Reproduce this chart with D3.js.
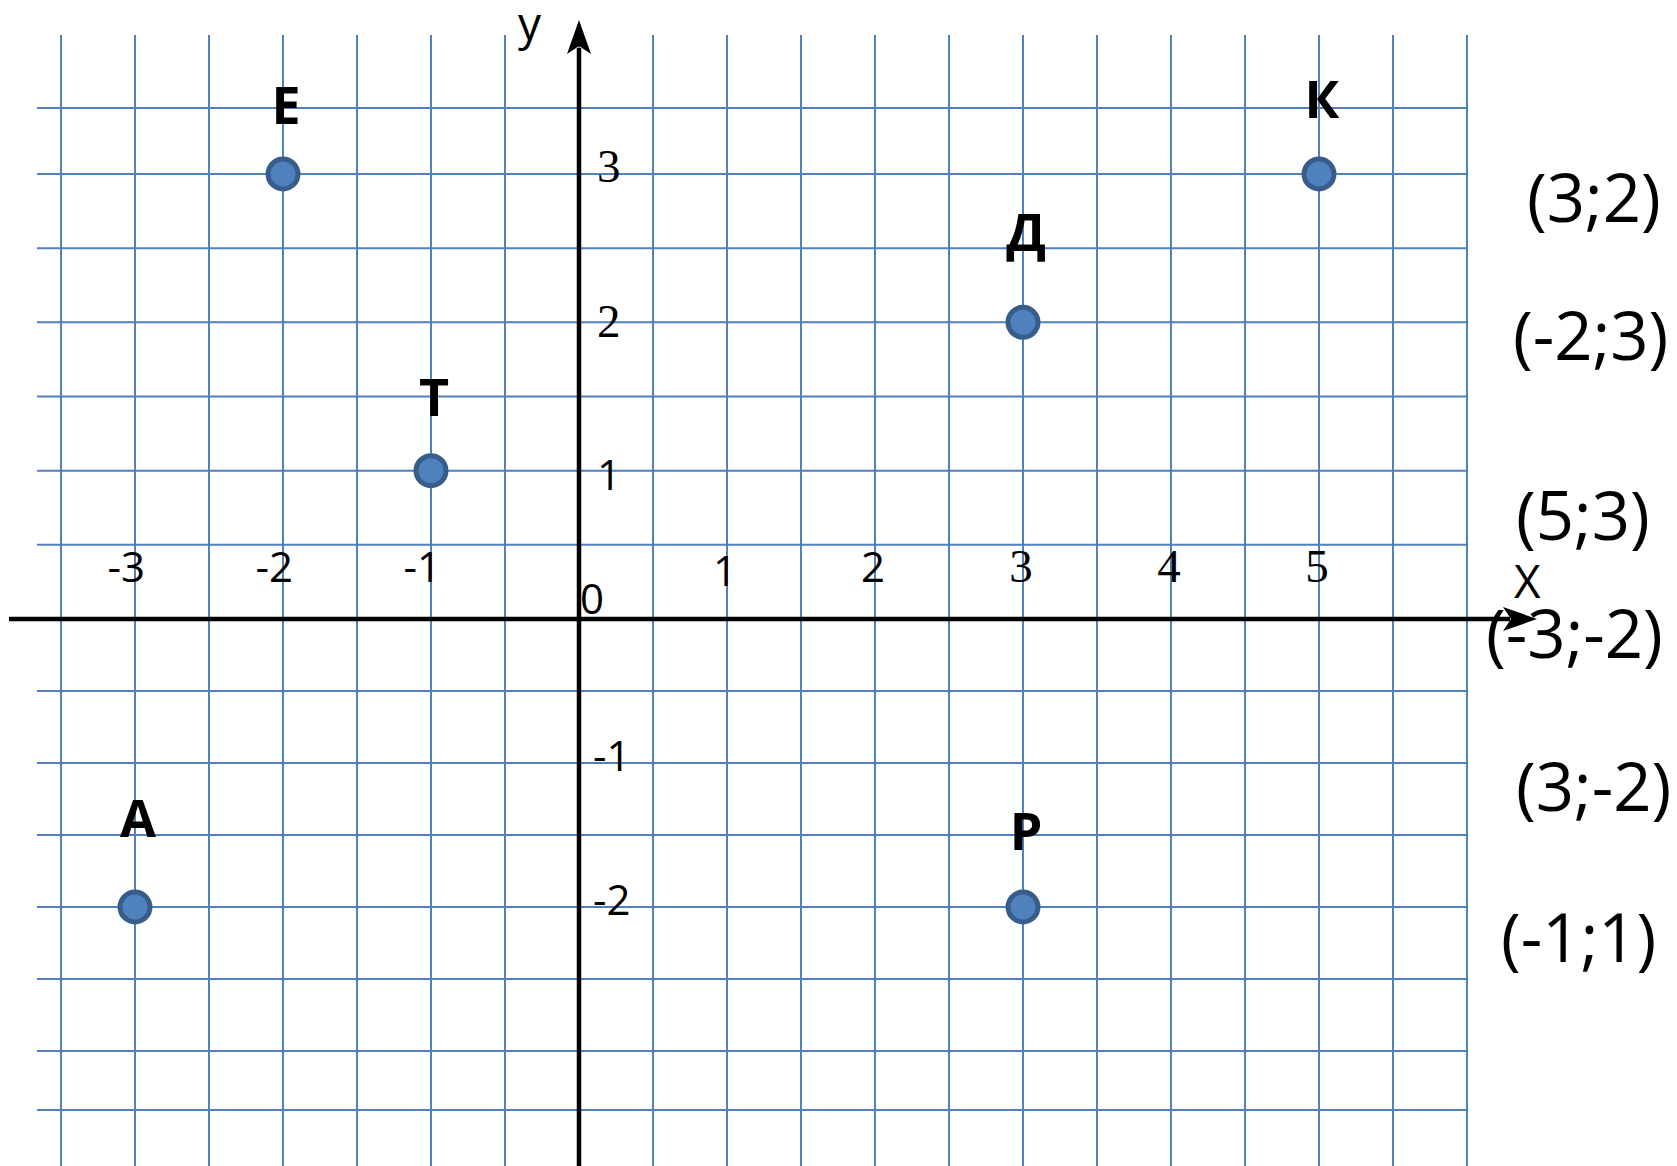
<!DOCTYPE html>
<html>
<head>
<meta charset="utf-8">
<script src="https://cdn.jsdelivr.net/npm/d3@7"></script>
<style>
  body { margin: 0; background: #fff; }
  svg { display: block; }
</style>
</head>
<body>
<div id="chart"></div>
<script>
// points on the grid
var pointNames = ["Е", "Т", "Д", "К", "А", "Р"];
var pointX = [-2, -1, 3, 5, -3, 3];
var pointY = [3, 1, 2, 3, -2, -2];

// axis numbers
var xTicks = [-3, -2, -1, 1, 2, 3, 4, 5];
var yTicks = [3, 2, 1, -1, -2];

// answers written on the right
var coordLabels = ["(3;2)", "(-2;3)", "(5;3)", "(-3;-2)", "(3;-2)", "(-1;1)"];

// layout only
var labelDy = [-50, -55, -71, -56, -70, -57];
var coordPos = [[1527, 222], [1513, 360], [1516, 540], [1486, 658], [1516, 811], [1501, 962]];
var serifX = [3, 4, 5], serifY = [3, 2];

var width = 1677, height = 1166;
var gridColor = "#4f81bd";
var sans = "'Open Sans', 'Noto Sans', sans-serif";
var serif = "'Liberation Serif', 'DejaVu Serif', serif";

var x = d3.scaleLinear().domain([0, 1]).range([579, 727]);
// the hand-drawn grid rows are not quite even
var y = d3.scaleLinear()
    .domain([-3.5, -3, -2, 0, 3, 3.5])
    .range([1110, 1051, 907, 619, 174, 108]);

var svg = d3.select("#chart").append("svg")
    .attr("width", width)
    .attr("height", height);

// grid
var grid = svg.append("g")
    .attr("stroke", gridColor)
    .attr("stroke-width", 2);

grid.selectAll("line.v")
    .data(d3.range(-3.5, 6.01, 0.5))
    .enter().append("line")
    .attr("class", "v")
    .attr("x1", function(d) { return x(d); })
    .attr("x2", function(d) { return x(d); })
    .attr("y1", 35)
    .attr("y2", height);

grid.selectAll("line.h")
    .data(d3.range(-3.5, 3.51, 0.5))
    .enter().append("line")
    .attr("class", "h")
    .attr("x1", 37)
    .attr("x2", x(6))
    .attr("y1", function(d) { return y(d); })
    .attr("y2", function(d) { return y(d); });

// axes with arrows
var axes = svg.append("g");
axes.append("line")
    .attr("x1", 9).attr("x2", 1510)
    .attr("y1", y(0)).attr("y2", y(0))
    .attr("stroke", "#000").attr("stroke-width", 4.5);
axes.append("line")
    .attr("x1", x(0)).attr("x2", x(0))
    .attr("y1", height).attr("y2", 48)
    .attr("stroke", "#000").attr("stroke-width", 4.5);

// x arrow head
axes.append("path")
    .attr("d", "M1537," + y(0) + " L1503," + (y(0) - 12) + " L1511," + y(0) + " L1503," + (y(0) + 12) + " Z")
    .attr("fill", "#000");
// y arrow head
axes.append("path")
    .attr("d", "M" + x(0) + ",20 L" + (x(0) - 12) + ",54 L" + x(0) + ",46 L" + (x(0) + 12) + ",54 Z")
    .attr("fill", "#000");

// axis names
svg.append("text")
    .attr("x", 518).attr("y", 40)
    .attr("font-family", sans).attr("font-size", 46)
    .text("у");
svg.append("text")
    .attr("x", 1514).attr("y", 598)
    .attr("font-family", sans).attr("font-size", 46)
    .text("Х");

// origin
svg.append("text")
    .attr("x", 580).attr("y", 614)
    .attr("font-family", sans).attr("font-size", 42)
    .text("0");

// x numbers
svg.append("g").selectAll("text")
    .data(xTicks)
    .enter().append("text")
    .attr("x", function(d) { return d < 0 ? x(d) + 10 : x(d) - 2; })
    .attr("y", function(d) { return d === 1 ? 586 : 582; })
    .attr("text-anchor", function(d) { return d < 0 ? "end" : "middle"; })
    .attr("font-family", function(d) { return serifX.indexOf(d) >= 0 ? serif : sans; })
    .attr("font-size", function(d) { return serifX.indexOf(d) >= 0 ? 47 : 42; })
    .text(function(d) { return d; });

// y numbers
svg.append("g").selectAll("text")
    .data(yTicks)
    .enter().append("text")
    .attr("x", function(d) { return d < 0 ? 593 : 597; })
    .attr("y", function(d) { return y(d) + (d === 1 ? 19 : d === 2 ? 15 : 8); })
    .attr("font-family", function(d) { return serifY.indexOf(d) >= 0 ? serif : sans; })
    .attr("font-size", function(d) { return serifY.indexOf(d) >= 0 ? 47 : 42; })
    .text(function(d) { return d; });

// points
var pts = d3.range(pointNames.length);

svg.append("g").selectAll("circle")
    .data(pts)
    .enter().append("circle")
    .attr("cx", function(i) { return x(pointX[i]); })
    .attr("cy", function(i) { return y(pointY[i]); })
    .attr("r", 15)
    .attr("fill", "#4f81bd")
    .attr("stroke", "#385d8a")
    .attr("stroke-width", 5);

svg.append("g").selectAll("text")
    .data(pts)
    .enter().append("text")
    .attr("x", function(i) { return x(pointX[i]) + 3; })
    .attr("y", function(i) { return y(pointY[i]) + labelDy[i]; })
    .attr("text-anchor", "middle")
    .attr("font-family", sans)
    .attr("font-weight", "bold")
    .attr("font-size", 52)
    .text(function(i) { return pointNames[i]; });

// coordinates list
svg.append("g").selectAll("text")
    .data(coordLabels)
    .enter().append("text")
    .attr("x", function(d, i) { return coordPos[i][0]; })
    .attr("y", function(d, i) { return coordPos[i][1]; })
    .attr("font-family", sans)
    .attr("font-size", 67)
    .text(function(d) { return d; });
</script>
</body>
</html>
